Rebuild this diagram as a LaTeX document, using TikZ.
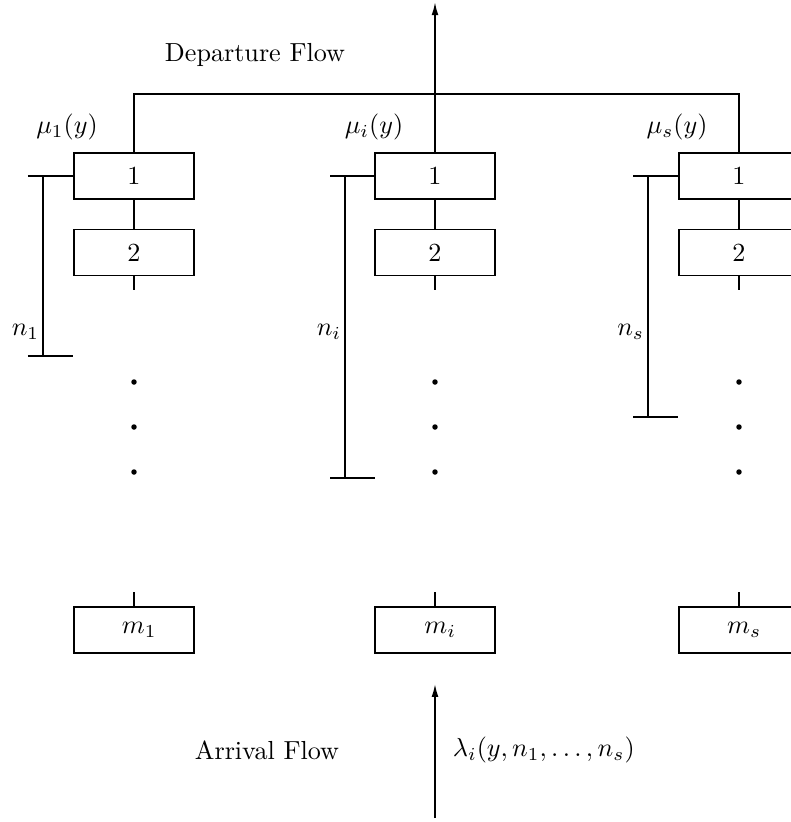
\documentclass[tikz,border=0pt]{standalone}
\usetikzlibrary{arrows.meta}
\begin{document}
\begin{tikzpicture}[x=0.383pt,y=-0.383pt,
  line width=0.65pt,
  server/.style={draw,rectangle,inner sep=0pt,minimum width=46pt,minimum height=17.6pt,line width=0.7pt},
  dotmark/.style={circle,fill,inner sep=0pt,minimum size=2.1pt},
  flow/.style={-{Latex[length=5pt,width=2.6pt]}},
  lbl/.style={inner sep=0pt}]
\useasboundingbox (0,0) rectangle (791,822);

% three queues: column centres 134, 435, 739
\foreach \c/\x/\s in {1/134/1, 2/435/i, 3/739/s} {
  \node[server] (b\c1) at (\x,176) {1};
  \node[server] (b\c2) at (\x,252.5) {2};
  \node[server] (b\c m) at (\x,630) {\hspace{4pt}$m_{\s}$};
  \coordinate (s\c) at (\x,290);
  \coordinate (t\c) at (\x,592);
  \node[dotmark] (d\c a) at (\x,382) {};
  \node[dotmark] (d\c b) at (\x,427) {};
  \node[dotmark] (d\c c) at (\x,472) {};
  \draw (b\c1.south) -- (b\c2.north);
  \draw (b\c2.south) -- (s\c);
  \draw (t\c) -- (b\c m.north);
}

% departure flow
\coordinate (j1) at (134,94);
\coordinate (j3) at (739,94);
\coordinate (top) at (435,2);
\draw (b11.north) -- (j1) -- (j3) -- (b31.north);
\draw[flow] (b21.north) -- (top);
\node[lbl] (dep) at (255,55) {Departure Flow};

% service rates
\node[lbl] (mu1) at (67,127) {$\mu_1(y)$};
\node[lbl] (mui) at (374,127) {$\mu_i(y)$};
\node[lbl] (mus) at (677,127) {$\mu_s(y)$};

% number of busy servers
\foreach \c/\x/\yb/\s in {1/28/356/1, 2/330/478/i, 3/633/417/s} {
  \coordinate (na\c) at (\x,176);
  \coordinate (nv\c) at (\x+15,176);
  \coordinate (nw\c) at (\x+15,\yb);
  \coordinate (nl\c) at (\x,\yb);
  \coordinate (nr\c) at (\x+45,\yb);
  \draw[line width=0.8pt] (na\c) -- (b\c1.west);
  \draw (nv\c) -- (nw\c);
  \draw[line width=0.8pt] (nl\c) -- (nr\c);
  \node[lbl,anchor=east] (nlab\c) at (\x+12,332) {$n_{\s}$};
}

% arrival flow
\coordinate (arr) at (435,818);
\node[inner sep=0pt,minimum size=0pt] (arrtip) at (435,683) {};
\draw[flow] (arr) -- (arrtip);
\node[lbl] (arrlab) at (267,750) {Arrival Flow};
\node[lbl,anchor=west] (lam) at (452,750) {$\lambda_i(y,n_1,\ldots,n_s)$};
\end{tikzpicture}
\end{document}
